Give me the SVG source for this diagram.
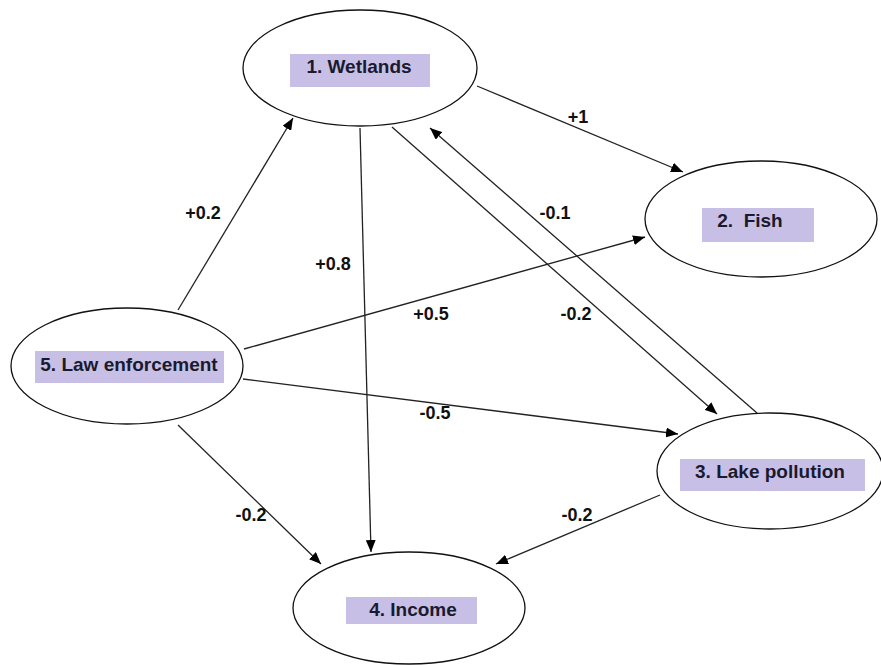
<svg xmlns="http://www.w3.org/2000/svg" width="881" height="665" viewBox="0 0 881 665">
<style>
.node ellipse{fill:#fff;stroke:#111;stroke-width:1.3}
.node rect{fill:#c7bfe6}
.node text{font-family:"Liberation Sans",Arial,sans-serif;font-weight:bold;font-size:19px;fill:#1a1a2e;text-anchor:middle;dominant-baseline:central}
.edges line{stroke:#222;stroke-width:1.3;marker-end:url(#ah)}
.lbl{font-family:"Liberation Sans",Arial,sans-serif;font-weight:bold;font-size:18px;fill:#111;text-anchor:middle;dominant-baseline:central}
</style>
<defs>
<marker id="ah" viewBox="0 0 12 10" refX="12" refY="5" markerWidth="12" markerHeight="10" markerUnits="userSpaceOnUse" orient="auto">
<path d="M0,0 L12,5 L0,10 Z" fill="#000"/>
</marker>
</defs>
<rect width="881" height="665" fill="#fff"/>
<g class="edges">
<line x1="477" y1="86" x2="683" y2="172"/>
<line x1="757" y1="413" x2="430" y2="128"/>
<line x1="392" y1="127" x2="717" y2="414"/>
<line x1="360" y1="128" x2="371" y2="552"/>
<line x1="178" y1="310" x2="293" y2="118"/>
<line x1="244" y1="349" x2="645" y2="237"/>
<line x1="243" y1="379" x2="678" y2="434"/>
<line x1="178" y1="425" x2="321" y2="564"/>
<line x1="660" y1="495" x2="496" y2="564"/>
</g>
<g id="labels">
<text class="lbl" x="578" y="117">+1</text>
<text class="lbl" x="555" y="213">-0.1</text>
<text class="lbl" x="203" y="213">+0.2</text>
<text class="lbl" x="333" y="264">+0.8</text>
<text class="lbl" x="431" y="314">+0.5</text>
<text class="lbl" x="576" y="314">-0.2</text>
<text class="lbl" x="435" y="413">-0.5</text>
<text class="lbl" x="251" y="515">-0.2</text>
<text class="lbl" x="577" y="515">-0.2</text>
</g>
<g id="n1" class="node">
<ellipse cx="360" cy="68" rx="117" ry="58"/>
<rect x="290" y="54" width="140" height="33"/>
<text x="359" y="66">1. Wetlands</text>
</g>
<g id="n2" class="node">
<ellipse cx="761" cy="219" rx="116" ry="58"/>
<rect x="702" y="208" width="112" height="34"/>
<text x="750" y="220" xml:space="preserve">2.  Fish</text>
</g>
<g id="n5" class="node">
<ellipse cx="127" cy="366" rx="116" ry="58"/>
<rect x="35" y="351" width="189" height="32"/>
<text x="129" y="364">5. Law enforcement</text>
</g>
<g id="n3" class="node">
<ellipse cx="770" cy="471" rx="113" ry="58"/>
<rect x="680" y="459" width="185" height="32"/>
<text x="770" y="471">3. Lake pollution</text>
</g>
<g id="n4" class="node">
<ellipse cx="409" cy="608" rx="116" ry="56"/>
<rect x="346" y="597" width="131" height="27"/>
<text x="413" y="609">4. Income</text>
</g>
</svg>
